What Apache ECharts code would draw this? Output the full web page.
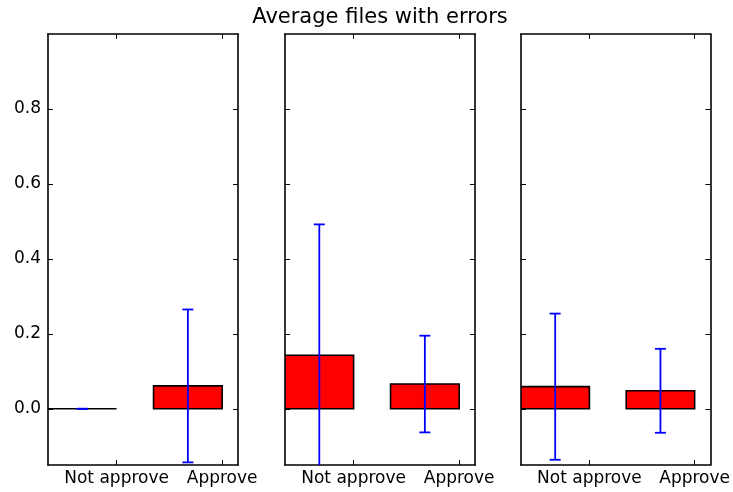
<!DOCTYPE html>
<html>
<head>
<meta charset="utf-8">
<script src="https://cdn.jsdelivr.net/npm/echarts@6/dist/echarts.min.js"></script>
<style>
  html, body { margin: 0; padding: 0; background: #fff; }
  #chart { width: 733px; height: 492px; }
</style>
</head>
<body>
<div id="chart"></div>
<script>
// Average files with errors, one panel per group
const categories = ['Not approve', 'Approve'];
const panelMeans = [
  [0.0, 0.061],
  [0.143, 0.066],
  [0.059, 0.048]
];
const panelErrors = [
  [0.0, 0.204],
  [0.349, 0.129],
  [0.195, 0.112]
];
const yTicks = [0.0, 0.2, 0.4, 0.6, 0.8];

const BAR_WIDTH = 0.65;
const X_MIN = 0, X_MAX = 1.8;
const Y_MIN = -0.15, Y_MAX = 1.0;
const FONT = 'DejaVu Sans';
const xTicks = categories.map((_, i) => i + BAR_WIDTH);

const panelLeft = [48, 285, 521];
const grids = panelLeft.map(l => ({ left: l, top: 34, width: 190, height: 431 }));

const frameLine = { show: true, onZero: false, lineStyle: { color: '#000', width: 1.6 } };
const innerTick = { show: true, inside: true, length: 5, lineStyle: { color: '#000', width: 1 } };

const xAxes = [], yAxes = [], series = [];

grids.forEach((g, p) => {
  ['bottom', 'top'].forEach(pos => {
    xAxes.push({
      type: 'value', gridIndex: p, position: pos, min: X_MIN, max: X_MAX,
      axisLine: frameLine,
      axisTick: Object.assign({ customValues: xTicks }, innerTick),
      splitLine: { show: false },
      axisLabel: {
        show: pos === 'bottom', customValues: xTicks, margin: 5,
        fontFamily: FONT, fontSize: 17, color: '#000',
        formatter: v => categories[Math.round(v - BAR_WIDTH)]
      }
    });
  });
  ['left', 'right'].forEach(pos => {
    yAxes.push({
      type: 'value', gridIndex: p, position: pos, min: Y_MIN, max: Y_MAX,
      axisLine: frameLine,
      axisTick: Object.assign({ customValues: yTicks }, innerTick),
      splitLine: { show: false },
      axisLabel: {
        show: pos === 'left' && p === 0, customValues: yTicks, margin: 7,
        fontFamily: FONT, fontSize: 17, color: '#000',
        formatter: v => v.toFixed(1)
      }
    });
  });

  const data = categories.map((_, i) => [i, panelMeans[p][i], panelErrors[p][i]]);

  // red bars with black edges, left edge at the category position
  series.push({
    type: 'custom', xAxisIndex: p * 2, yAxisIndex: p * 2, clip: true,
    data: data,
    renderItem: (params, api) => {
      const x = api.value(0), v = api.value(1);
      const a = api.coord([x, 0]);
      const b = api.coord([x + BAR_WIDTH, v]);
      return {
        type: 'rect',
        shape: { x: a[0], y: Math.min(a[1], b[1]), width: b[0] - a[0], height: Math.abs(b[1] - a[1]) },
        style: { fill: '#ff0000', stroke: '#000', lineWidth: 1.6 }
      };
    }
  });

  // blue error bars with caps at bar centres
  series.push({
    type: 'custom', xAxisIndex: p * 2, yAxisIndex: p * 2, clip: true,
    data: data,
    renderItem: (params, api) => {
      const cx = api.value(0) + BAR_WIDTH / 2;
      const m = api.value(1), e = api.value(2);
      const lo = api.coord([cx, m - e]);
      const hi = api.coord([cx, m + e]);
      const cs = params.coordSys;
      const yTop = cs.y, yBot = cs.y + cs.height;
      const ls = { stroke: '#0000ff', lineWidth: 1.8 };
      const kids = [{
        type: 'line',
        shape: { x1: hi[0], y1: Math.max(hi[1], yTop), x2: lo[0], y2: Math.min(lo[1], yBot) },
        style: ls
      }];
      [hi, lo].forEach(pt => {
        if (pt[1] >= yTop && pt[1] <= yBot) {
          kids.push({ type: 'line', shape: { x1: pt[0] - 5.5, y1: pt[1], x2: pt[0] + 5.5, y2: pt[1] }, style: ls });
        }
      });
      return { type: 'group', children: kids };
    }
  });
});

const chart = echarts.init(document.getElementById('chart'), null, { renderer: 'canvas' });
chart.setOption({
  animation: false,
  backgroundColor: '#ffffff',
  grid: grids,
  xAxis: xAxes,
  yAxis: yAxes,
  series: series,
  graphic: [{
    type: 'text', x: 380, y: 18,
    style: {
      text: 'Average files with errors', fontFamily: FONT, fontSize: 21,
      fill: '#000', textAlign: 'center', textVerticalAlign: 'middle'
    }
  }]
});
</script>
</body>
</html>
